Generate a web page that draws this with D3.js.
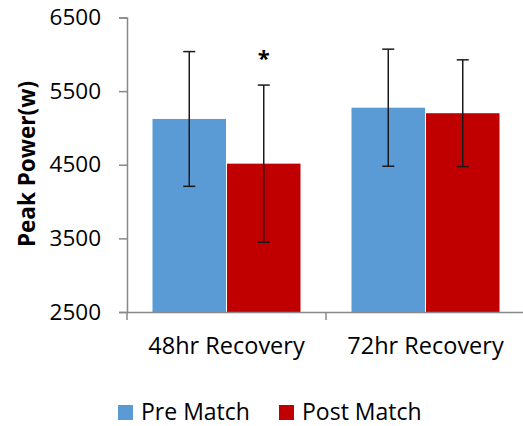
<!DOCTYPE html>
<html>
<head>
<meta charset="utf-8">
<script src="https://cdn.jsdelivr.net/npm/d3@7"></script>
<style>
  html, body { margin: 0; padding: 0; background: #fff; }
  svg { display: block; font-family: "Open Sans", "Noto Sans", sans-serif; }
</style>
</head>
<body>
<svg id="chart" width="523" height="426"></svg>
<script>
// Peak power before and after a match, by recovery period
const categories = ["48hr Recovery", "72hr Recovery"];
const seriesNames = ["Pre Match", "Post Match"];
const preMatch = [5122, 5275];
const postMatch = [4515, 5200];
const preMatchErr = [915, 795];
const postMatchErr = [1067, 725];
const significant = [false, true, false, false]; // per bar: pre48, post48, pre72, post72
const yTicks = [2500, 3500, 4500, 5500, 6500];
const colors = ["#5B9BD5", "#C00000"];

const svg = d3.select("#chart");
const margin = { left: 127, right: 525, top: 17.5, bottom: 312 };

const y = d3.scaleLinear().domain([2500, 6500]).range([margin.bottom, margin.top]);
const x0 = d3.scaleBand().domain(categories).range([margin.left, margin.right]).paddingInner(0).paddingOuter(0);
const x1 = d3.scaleBand().domain(seriesNames).range([25.5, x0.bandwidth() - 25.5]).paddingInner(0.013);

const rows = categories.map((c, i) => ({
  category: c,
  bars: [
    { series: seriesNames[0], value: preMatch[i], err: preMatchErr[i], color: colors[0], sig: significant[i * 2] },
    { series: seriesNames[1], value: postMatch[i], err: postMatchErr[i], color: colors[1], sig: significant[i * 2 + 1] }
  ]
}));

const axisColor = "#898989";

// y axis
const yAxis = svg.append("g")
  .attr("transform", `translate(${margin.left},0)`)
  .call(d3.axisLeft(y).tickValues(yTicks).tickSize(8).tickPadding(18).tickFormat(d3.format("d")));
yAxis.select(".domain").attr("stroke", axisColor).attr("stroke-width", 1.5);
yAxis.selectAll(".tick line").attr("stroke", axisColor).attr("stroke-width", 1.5);
yAxis.selectAll(".tick text")
  .attr("fill", "#000")
  .style("font-size", "22.5px")
  .style("font-family", "'Open Sans', sans-serif");

// bars
const groups = svg.append("g").selectAll("g")
  .data(rows).join("g")
  .attr("transform", d => `translate(${x0(d.category)},0)`);

groups.selectAll("rect")
  .data(d => d.bars).join("rect")
  .attr("x", d => x1(d.series))
  .attr("width", x1.bandwidth())
  .attr("y", d => y(d.value))
  .attr("height", d => y(2500) - y(d.value))
  .attr("fill", d => d.color);

// error bars
const errG = groups.selectAll("g.err")
  .data(d => d.bars).join("g")
  .attr("class", "err")
  .attr("transform", d => `translate(${x1(d.series) + x1.bandwidth() / 2},0)`);
errG.append("line")
  .attr("y1", d => y(d.value + d.err)).attr("y2", d => y(d.value - d.err))
  .attr("stroke", "#1a1a1a").attr("stroke-width", 1.5);
errG.append("line")
  .attr("x1", -6).attr("x2", 6)
  .attr("y1", d => y(d.value + d.err)).attr("y2", d => y(d.value + d.err))
  .attr("stroke", "#1a1a1a").attr("stroke-width", 1.5);
errG.append("line")
  .attr("x1", -6).attr("x2", 6)
  .attr("y1", d => y(d.value - d.err)).attr("y2", d => y(d.value - d.err))
  .attr("stroke", "#1a1a1a").attr("stroke-width", 1.5);
errG.filter(d => d.sig).append("text")
  .attr("y", d => y(d.value + d.err) - 19)
  .attr("text-anchor", "middle")
  .style("font-size", "22px")
  .style("font-weight", "bold")
  .text("*");

// x axis
const xAxis = svg.append("g")
  .attr("transform", `translate(0,${margin.bottom})`)
  .call(d3.axisBottom(x0).tickSize(0).tickPadding(25));
xAxis.select(".domain").attr("stroke", axisColor).attr("stroke-width", 1.5);
xAxis.selectAll(".tick text")
  .attr("fill", "#000")
  .style("font-size", "23.5px")
  .style("font-family", "'Open Sans', sans-serif");
// boundary ticks between categories
const bounds = categories.map(c => x0(c)).concat([x0(categories[categories.length - 1]) + x0.bandwidth()]);
xAxis.selectAll("line.bound").data(bounds).join("line")
  .attr("class", "bound")
  .attr("x1", d => d).attr("x2", d => d)
  .attr("y1", 0).attr("y2", 8)
  .attr("stroke", axisColor).attr("stroke-width", 1.5);

// y axis title
svg.append("text")
  .attr("transform", `translate(35,164) rotate(-90)`)
  .attr("text-anchor", "middle")
  .style("font-size", "22.5px")
  .style("font-weight", "bold")
  .text("Peak Power(w)");

// legend
const legend = svg.append("g").attr("transform", "translate(118,405)");
const legendX = [0, 161];
const items = legend.selectAll("g").data(seriesNames).join("g")
  .attr("transform", (d, i) => `translate(${legendX[i]},0)`);
items.append("rect").attr("width", 15).attr("height", 15).attr("fill", (d, i) => colors[i]);
items.append("text")
  .attr("x", 23).attr("y", 14.5)
  .style("font-size", "23px")
  .text(d => d);
</script>
</body>
</html>
